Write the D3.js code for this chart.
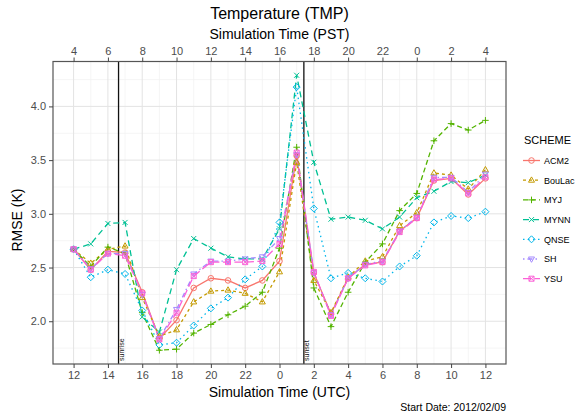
<!DOCTYPE html>
<html>
<head>
<meta charset="utf-8">
<script src="https://cdn.jsdelivr.net/npm/d3@7"></script>
<style>
  body { margin: 0; background: #fff; }
  text { font-family: "Liberation Sans", Arial, sans-serif; }
</style>
</head>
<body>
<div id="chart"></div>
<script>
// hours since the 12 UTC start
var hours = d3.range(0, 25);
var tickHours = [0, 2, 4, 6, 8, 10, 12, 14, 16, 18, 20, 22, 24];
var utcLabels = ["12", "14", "16", "18", "20", "22", "0", "2", "4", "6", "8", "10", "12"];
var pstLabels = ["4", "6", "8", "10", "12", "14", "16", "18", "20", "22", "0", "2", "4"];
var yTicks = [2.0, 2.5, 3.0, 3.5, 4.0];

var schemes = ["ACM2", "BouLac", "MYJ", "MYNN", "QNSE", "SH", "YSU"];
var colors = ["#F8766D", "#C49A00", "#53B400", "#00C094", "#00B6EB", "#A58AFF", "#FB61D7"];
var dashes = [null, "3,3", "5,3", "6,4", "1.5,3.5", "1.5,3,5,3", "8,3.5"];

var acm2   = [2.67, 2.48, 2.65, 2.64, 2.27, 1.84, 2.01, 2.31, 2.40, 2.38, 2.31, 2.38, 2.56, 3.54, 2.45, 2.07, 2.40, 2.53, 2.55, 2.84, 2.96, 3.31, 3.33, 3.18, 3.33];
var boulac = [2.67, 2.54, 2.67, 2.70, 2.22, 1.86, 1.92, 2.18, 2.28, 2.29, 2.26, 2.18, 2.46, 3.48, 2.38, 2.08, 2.41, 2.56, 2.60, 2.89, 3.01, 3.38, 3.36, 3.23, 3.41];
var myj    = [2.67, 2.51, 2.69, 2.63, 2.08, 1.73, 1.74, 1.89, 1.97, 2.06, 2.14, 2.27, 2.68, 3.62, 2.31, 1.95, 2.27, 2.55, 2.72, 3.03, 3.19, 3.68, 3.84, 3.78, 3.87];
var mynn   = [2.67, 2.72, 2.91, 2.92, 2.04, 1.90, 2.48, 2.77, 2.68, 2.60, 2.58, 2.58, 2.86, 4.29, 3.48, 2.95, 2.97, 2.94, 2.86, 2.97, 3.15, 3.21, 3.30, 3.29, 3.36];
var qnse   = [2.67, 2.41, 2.48, 2.44, 2.10, 1.78, 1.80, 1.96, 2.12, 2.22, 2.39, 2.51, 2.92, 4.18, 3.05, 2.40, 2.45, 2.40, 2.37, 2.51, 2.61, 2.92, 2.98, 2.96, 3.02];
var sh     = [2.67, 2.49, 2.63, 2.63, 2.25, 1.84, 2.11, 2.44, 2.56, 2.56, 2.58, 2.60, 2.77, 3.55, 2.45, 2.06, 2.40, 2.53, 2.56, 2.84, 2.97, 3.34, 3.34, 3.20, 3.37];
var ysu    = [2.67, 2.48, 2.63, 2.61, 2.26, 1.83, 2.08, 2.42, 2.55, 2.55, 2.55, 2.56, 2.72, 3.57, 2.46, 2.05, 2.40, 2.52, 2.55, 2.83, 2.96, 3.32, 3.33, 3.19, 3.34];

var sunEvents = [{ name: "sunrise", hour: 2.62 }, { name: "sunset", hour: 13.42 }];

var seriesValues = [acm2, boulac, myj, mynn, qnse, sh, ysu];
var series = schemes.map(function (s, k) {
  return {
    name: s, color: colors[k], dash: dashes[k], shape: k + 1,
    values: hours.map(function (h, i) { return { h: h, v: seriesValues[k][i] }; })
  };
});

var W = 576, H = 415;
var panel = { left: 53, right: 506, top: 61.5, bottom: 364 };

var svg = d3.select("#chart").append("svg")
  .attr("width", W).attr("height", H);

// scales, with the 5% expansion ggplot uses
var x = d3.scaleLinear().domain([-1.2, 25.2]).range([panel.left, panel.right]);
var all = [].concat.apply([], seriesValues);
var ext = d3.extent(all), pad = (ext[1] - ext[0]) * 0.05;
var y = d3.scaleLinear().domain([ext[0] - pad, ext[1] + pad]).range([panel.bottom, panel.top]);

// grid
var grid = svg.append("g");
d3.range(1, 25, 2).forEach(function (h) {
  grid.append("line").attr("x1", x(h)).attr("x2", x(h)).attr("y1", panel.top).attr("y2", panel.bottom)
    .attr("stroke", "#f0f0f0").attr("stroke-width", 0.7);
});
[1.75, 2.25, 2.75, 3.25, 3.75, 4.25].forEach(function (v) {
  grid.append("line").attr("x1", panel.left).attr("x2", panel.right).attr("y1", y(v)).attr("y2", y(v))
    .attr("stroke", "#f0f0f0").attr("stroke-width", 0.7);
});
tickHours.forEach(function (h) {
  grid.append("line").attr("x1", x(h)).attr("x2", x(h)).attr("y1", panel.top).attr("y2", panel.bottom)
    .attr("stroke", "#e3e3e3").attr("stroke-width", 1);
});
yTicks.forEach(function (v) {
  grid.append("line").attr("x1", panel.left).attr("x2", panel.right).attr("y1", y(v)).attr("y2", y(v))
    .attr("stroke", "#e3e3e3").attr("stroke-width", 1);
});

// sunrise / sunset markers
sunEvents.forEach(function (e) {
  svg.append("line").attr("x1", x(e.hour)).attr("x2", x(e.hour))
    .attr("y1", panel.top).attr("y2", panel.bottom)
    .attr("stroke", "#111").attr("stroke-width", 1.3);
  svg.append("text")
    .attr("transform", "translate(" + (x(e.hour) + 5) + "," + (panel.bottom - 3) + ") rotate(-90)")
    .attr("font-size", 7).attr("fill", "#111").text(e.name);
});

// point shapes (ggplot 1..7)
function shapePath(k) {
  switch (k) {
    case 1: return "M2.8,0A2.8,2.8 0 1,1 -2.8,0A2.8,2.8 0 1,1 2.8,0Z";
    case 2: return "M0,-3.3L3,2L-3,2Z";
    case 3: return "M-3.3,0H3.3M0,-3.3V3.3";
    case 4: return "M-2.5,-2.5L2.5,2.5M-2.5,2.5L2.5,-2.5";
    case 5: return "M0,-3.5L3.5,0L0,3.5L-3.5,0Z";
    case 6: return "M0,3.3L3,-2L-3,-2Z";
    default: return "M-2.5,-2.5H2.5V2.5H-2.5ZM-2.5,-2.5L2.5,2.5M-2.5,2.5L2.5,-2.5";
  }
}

var line = d3.line().x(function (d) { return x(d.h); }).y(function (d) { return y(d.v); });

svg.append("g").selectAll("path").data(series).enter().append("path")
  .attr("d", function (s) { return line(s.values); })
  .attr("fill", "none")
  .attr("stroke", function (s) { return s.color; })
  .attr("stroke-width", 1.3)
  .attr("stroke-dasharray", function (s) { return s.dash; });

series.forEach(function (s) {
  svg.append("g").selectAll("path").data(s.values).enter().append("path")
    .attr("transform", function (d) { return "translate(" + x(d.h) + "," + y(d.v) + ")"; })
    .attr("d", shapePath(s.shape))
    .attr("fill", "none").attr("stroke", s.color).attr("stroke-width", 1);
});

// panel border
svg.append("rect").attr("x", panel.left).attr("y", panel.top)
  .attr("width", panel.right - panel.left).attr("height", panel.bottom - panel.top)
  .attr("fill", "none").attr("stroke", "#555").attr("stroke-width", 1.2);

// axes
function styleAxis(g) {
  g.select(".domain").remove();
  g.selectAll(".tick line").attr("stroke", "#444");
  g.selectAll(".tick text").attr("fill", "#4d4d4d").attr("font-size", 11)
    .attr("font-family", "Liberation Sans, Arial, sans-serif");
}
svg.append("g").attr("transform", "translate(0," + panel.bottom + ")")
  .call(d3.axisBottom(x).tickValues(tickHours).tickSize(4).tickPadding(3)
    .tickFormat(function (d, i) { return utcLabels[i]; }))
  .call(styleAxis);
svg.append("g").attr("transform", "translate(0," + panel.top + ")")
  .call(d3.axisTop(x).tickValues(tickHours).tickSize(4).tickPadding(3)
    .tickFormat(function (d, i) { return pstLabels[i]; }))
  .call(styleAxis);
svg.append("g").attr("transform", "translate(" + panel.left + ",0)")
  .call(d3.axisLeft(y).tickValues(yTicks).tickSize(4).tickPadding(3).tickFormat(d3.format(".1f")))
  .call(styleAxis);

// titles
var cx = (panel.left + panel.right) / 2;
svg.append("text").attr("x", cx).attr("y", 19).attr("text-anchor", "middle")
  .attr("font-size", 16).text("Temperature (TMP)");
svg.append("text").attr("x", cx).attr("y", 39).attr("text-anchor", "middle")
  .attr("font-size", 14).text("Simulation Time (PST)");
svg.append("text").attr("x", cx).attr("y", 397).attr("text-anchor", "middle")
  .attr("font-size", 14).text("Simulation Time (UTC)");
svg.append("text").attr("transform", "translate(22,220) rotate(-90)").attr("text-anchor", "middle")
  .attr("font-size", 14).text("RMSE (K)");
svg.append("text").attr("x", panel.right).attr("y", 411).attr("text-anchor", "end")
  .attr("font-size", 10.5).text("Start Date: 2012/02/09");

// legend
var legend = svg.append("g").attr("transform", "translate(523,0)");
legend.append("text").attr("x", 1).attr("y", 144).attr("font-size", 11).text("SCHEME");
var item = legend.selectAll("g.item").data(series).enter().append("g")
  .attr("class", "item")
  .attr("transform", function (s, k) { return "translate(0," + (160.5 + k * 19.7) + ")"; });
item.append("line").attr("x1", 0).attr("x2", 17).attr("y1", 0).attr("y2", 0)
  .attr("stroke", function (s) { return s.color; }).attr("stroke-width", 1.3)
  .attr("stroke-dasharray", function (s) { return s.dash; });
item.append("path").attr("transform", "translate(8.5,0)")
  .attr("d", function (s) { return shapePath(s.shape); })
  .attr("fill", "none").attr("stroke", function (s) { return s.color; }).attr("stroke-width", 1);
item.append("text").attr("x", 21).attr("y", 3.3).attr("font-size", 9)
  .text(function (s) { return s.name; });
</script>
</body>
</html>
